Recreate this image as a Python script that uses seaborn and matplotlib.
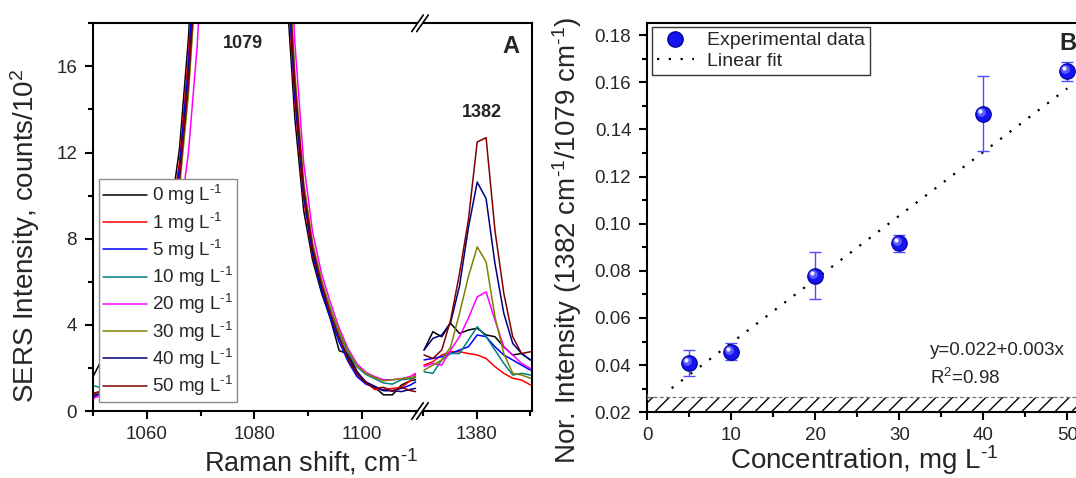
import numpy as np
import pandas as pd
import matplotlib
matplotlib.use("Agg")
import matplotlib.pyplot as plt
import seaborn as sns
from matplotlib.ticker import MultipleLocator, FormatStrFormatter
from matplotlib.lines import Line2D
from matplotlib.patches import Polygon
from matplotlib.transforms import offset_copy

# ---------------- data: panel A (SERS spectra) ----------------
conc_labels = ["0 mg L$^{\\text{-}1}$", "1 mg L$^{\\text{-}1}$", "5 mg L$^{\\text{-}1}$",
               "10 mg L$^{\\text{-}1}$", "20 mg L$^{\\text{-}1}$", "30 mg L$^{\\text{-}1}$",
               "40 mg L$^{\\text{-}1}$", "50 mg L$^{\\text{-}1}$"]
line_colors = ["#000000", "#ff0000", "#0000ff", "#008080",
               "#ff00ff", "#808000", "#000080", "#800000"]

shift_left = [1049.6, 1051.25, 1052.9, 1054.55, 1056.2, 1057.85, 1059.5, 1061.15,
              1062.8, 1064.45, 1066.1, 1067.75, 1069.4, 1071.05, 1072.7, 1074.35,
              1076.0, 1077.65, 1079.3, 1080.95, 1082.6, 1084.25, 1085.9, 1087.55,
              1089.2, 1090.85, 1092.5, 1094.15, 1095.8, 1097.45, 1099.1, 1100.75,
              1102.4, 1104.05, 1105.7, 1107.35, 1109.0, 1110.0]
shift_right = [1370.2, 1371.85, 1373.5, 1375.15, 1376.8, 1378.45, 1380.1,
               1381.75, 1383.4, 1385.05, 1386.7, 1388.35, 1390.0]

sers_0_left = [1.4, 2.2, 2.0, 2.0, 2.4, 3.2, 4.1, 5.4, 7.0, 9.2, 12.2, 17.3, 25, 36, 50, 66,
               79, 83, 76, 60, 44, 30, 20, 13.6, 9.3, 7.0, 5.5, 4.3, 2.8, 2.65, 1.85, 1.3,
               1.1, 0.75, 0.75, 1.2, 1.4, 1.45]
sers_1_left = [0.8, 0.9, 1.1, 1.4, 1.9, 2.7, 3.7, 4.9, 6.5, 8.7, 11.6, 16.5, 23.5, 34, 48, 64,
               78, 83, 78, 63, 46, 32, 21, 14.3, 9.8, 7.2, 5.7, 4.45, 3.4, 2.5, 1.8, 1.35,
               1.0, 1.0, 1.05, 1.1, 1.4, 1.7]
sers_5_left = [0.6, 0.8, 1.0, 1.3, 1.8, 2.6, 3.6, 4.8, 6.3, 8.5, 11.3, 16.0, 23, 33, 47, 63,
               77, 82, 78, 63, 47, 32, 21.5, 14.6, 10.0, 7.3, 5.6, 4.3, 3.2, 2.3, 1.6, 1.25,
               1.1, 0.95, 0.95, 1.05, 1.2, 1.35]
sers_10_left = [1.2, 1.1, 1.2, 1.5, 2.0, 2.7, 3.6, 4.7, 6.2, 8.2, 10.6, 15.0, 21, 31, 45, 61,
                75, 82, 79, 65, 49, 34, 22.5, 15.4, 10.4, 7.7, 6.0, 4.7, 3.6, 2.7, 2.05, 1.7,
                1.5, 1.3, 1.25, 1.45, 1.5, 1.55]
sers_20_left = [0.55, 0.7, 0.9, 1.2, 1.6, 2.3, 3.1, 4.1, 5.4, 7.1, 8.8, 12.0, 17.0, 25, 38, 54,
                70, 80, 82, 70, 54, 38, 25, 17.1, 11.5, 8.3, 6.4, 5.05, 3.85, 2.9, 2.2, 1.8,
                1.6, 1.45, 1.45, 1.5, 1.6, 1.75]
sers_30_left = [0.7, 0.8, 1.0, 1.3, 1.8, 2.5, 3.4, 4.6, 6.1, 8.1, 10.4, 14.7, 21, 30, 44, 60,
                75, 82, 79, 66, 50, 35, 23, 15.7, 10.6, 7.8, 6.1, 4.8, 3.7, 2.8, 2.1, 1.75,
                1.55, 1.4, 1.45, 1.5, 1.55, 1.6]
sers_40_left = [0.65, 0.8, 1.0, 1.4, 1.9, 2.7, 3.6, 4.8, 6.3, 8.3, 10.9, 15.4, 22, 32, 46, 62,
                76, 82, 78, 64, 48, 33, 22, 15, 10.2, 7.4, 5.8, 4.5, 3.4, 2.5, 1.8, 1.35,
                1.15, 0.95, 0.95, 0.9, 1.0, 1.05]
sers_50_left = [0.75, 0.9, 1.1, 1.4, 1.9, 2.7, 3.6, 4.8, 6.3, 8.3, 10.8, 15.2, 21.5, 31.5, 46, 62,
                76, 82, 78.5, 64.5, 48.5, 33.5, 22.3, 15.2, 10.3, 7.6, 5.9, 4.5, 3.4, 2.4, 1.7, 1.3,
                1.05, 1.1, 0.9, 1.1, 0.95, 0.9]

sers_0_right = [2.83, 3.68, 3.45, 4.07, 3.60, 3.76, 3.84, 3.53, 3.45, 2.98, 2.60, 2.67, 2.37]
sers_1_right = [2.13, 2.29, 2.60, 2.75, 2.75, 2.67, 2.60, 2.44, 2.06, 1.75, 1.52, 1.44, 1.21]
sers_5_right = [2.37, 2.44, 2.52, 2.67, 2.83, 2.98, 3.53, 3.45, 2.98, 2.60, 2.37, 2.13, 1.90]
sers_10_right = [1.82, 1.75, 2.37, 2.67, 2.67, 3.29, 3.91, 3.45, 2.83, 2.21, 1.67, 1.75, 1.67]
sers_20_right = [2.06, 2.21, 2.13, 2.83, 3.45, 4.30, 5.30, 5.53, 4.22, 2.98, 2.60, 2.21, 1.98]
sers_30_right = [1.90, 2.13, 2.37, 2.98, 4.53, 6.23, 7.62, 6.93, 4.37, 2.67, 1.75, 1.67, 1.52]
sers_40_right = [2.83, 3.37, 3.53, 4.10, 5.80, 8.50, 10.63, 9.86, 6.85, 4.53, 3.14, 2.67, 2.37]
sers_50_right = [2.60, 2.44, 2.83, 4.22, 6.38, 8.86, 12.49, 12.69, 8.39, 5.46, 3.45, 2.67, 2.75]

# ---------------- data: panel B (calibration) ----------------
conc_mgL = [0, 5, 10, 20, 30, 40, 50]
ratio = [0.0265, 0.0408, 0.0457, 0.0779, 0.0916, 0.1467, 0.1646]
ratio_err = [0.0013, 0.0056, 0.0037, 0.0100, 0.0036, 0.0160, 0.0040]
fit_intercept = 0.0224
fit_slope = 0.0027
fit_span = [2.9, 50.0]
lod_level = 0.0265
axis_floor = 0.02

# ---------------- style ----------------
sns.set_theme(style="ticks")
plt.rcParams["font.family"] = ["Liberation Sans", "DejaVu Sans"]
plt.rcParams["mathtext.fontset"] = "custom"
plt.rcParams["mathtext.rm"] = "Liberation Sans"
plt.rcParams["mathtext.it"] = "Liberation Sans:italic"
plt.rcParams["mathtext.bf"] = "Liberation Sans:bold"
plt.rcParams["mathtext.default"] = "regular"
plt.rcParams["axes.linewidth"] = 1.5
plt.rcParams["hatch.linewidth"] = 1.0
plt.rcParams["axes.edgecolor"] = "black"

W, H = 1076, 478
fig = plt.figure(figsize=(W / 100, H / 100), dpi=100)


def fx(px):
    return px / W


def fy(py):
    return 1 - py / H


axL = fig.add_axes([fx(93), fy(411), fx(419.5) - fx(93), fy(23.3) - fy(411)])
axR = fig.add_axes([fx(419.5), fy(411), fx(531.5) - fx(419.5), fy(23.3) - fy(411)], sharey=axL)
axB = fig.add_axes([fx(647.3), fy(412.3), fx(1084.1) - fx(647.3), fy(23.3) - fy(412.3)])

palette = dict(zip(conc_labels, line_colors))
left_series = [sers_0_left, sers_1_left, sers_5_left, sers_10_left,
               sers_20_left, sers_30_left, sers_40_left, sers_50_left]
right_series = [sers_0_right, sers_1_right, sers_5_right, sers_10_right,
                sers_20_right, sers_30_right, sers_40_right, sers_50_right]

df_left = pd.DataFrame({
    "shift": np.tile(shift_left, len(conc_labels)),
    "intensity": np.concatenate(left_series),
    "label": np.repeat(conc_labels, len(shift_left)),
})
df_right = pd.DataFrame({
    "shift": np.tile(shift_right, len(conc_labels)),
    "intensity": np.concatenate(right_series),
    "label": np.repeat(conc_labels, len(shift_right)),
})

for ax, df in ((axL, df_left), (axR, df_right)):
    sns.lineplot(data=df, x="shift", y="intensity", hue="label", hue_order=conc_labels,
                 palette=palette, estimator=None, sort=False, legend=False,
                 linewidth=1.1, ax=ax)

axL.set_xlim(1050, 1110.74)
axR.set_xlim(1369.36, 1390.2)
axL.set_ylim(0, 18)
axL.spines["right"].set_visible(False)
axR.spines["left"].set_visible(False)
for ax in (axL, axR):
    ax.xaxis.set_major_locator(MultipleLocator(20))
    ax.xaxis.set_minor_locator(MultipleLocator(10))
    ax.set_xlabel("")
    ax.set_ylabel("")
axL.yaxis.set_major_locator(MultipleLocator(4))
axL.yaxis.set_minor_locator(MultipleLocator(2))

for ax in (axL, axR, axB):
    ax.tick_params(axis="both", which="major", direction="out", length=6, width=1.5,
                   labelsize=13.5, top=False, right=False, color="black")
    ax.tick_params(axis="both", which="minor", direction="out", length=3.5, width=1.5,
                   top=False, right=False, color="black")
    ax.tick_params(axis="x", which="major", pad=4.5)
    ax.tick_params(axis="y", which="major", pad=5.5)
    for sp in ax.spines.values():
        sp.set_linewidth(1.5)
        sp.set_color("black")
axR.tick_params(axis="y", which="both", left=False, right=False, labelleft=False)

axL.set_ylabel("SERS Intensity, counts/10$^2$", fontsize=20)
axL.yaxis.set_label_coords(-0.156, 0.451)
axL.set_xlabel("Raman shift, cm$^{\\text{-}1}$", fontsize=19.5, va="baseline")
axL.xaxis.set_label_coords(0.6677, -0.1548)

axL.text(1077.9, 17.07, "1079", fontsize=13, fontweight="bold", ha="center", va="center")
axR.text(1380.9, 13.84, "1382", fontsize=13, fontweight="bold", ha="center", va="center")
axR.text(0.743, 0.9226, "A", transform=axR.transAxes, fontsize=17, fontweight="bold",
         ha="left", va="baseline")

legA_handles = [Line2D([], [], color=c, lw=1.1) for c in line_colors]
legA = axL.legend(legA_handles, conc_labels, loc="lower left", bbox_to_anchor=(0.0184, 0.0232),
                  borderaxespad=0, fontsize=13.5, frameon=True, fancybox=False,
                  edgecolor="#8c8c8c", framealpha=1, handlelength=2.35, handletextpad=0.3,
                  labelspacing=0.17, borderpad=0.2)
legA.get_frame().set_linewidth(1.0)


def draw_break(cx, cy):
    dxh, dyh, gap = 5.8, 8.3, 5.0
    x1, x2 = cx - gap / 2, cx + gap / 2
    poly = Polygon([(fx(x1 - dxh), fy(cy + dyh)), (fx(x1 + dxh), fy(cy - dyh)),
                    (fx(x2 + dxh), fy(cy - dyh)), (fx(x2 - dxh), fy(cy + dyh))],
                   closed=True, transform=fig.transFigure, facecolor="white",
                   edgecolor="none", zorder=10)
    fig.add_artist(poly)
    for x in (x1, x2):
        fig.add_artist(Line2D([fx(x - dxh), fx(x + dxh)], [fy(cy + dyh), fy(cy - dyh)],
                              transform=fig.transFigure, color="black", lw=1.2, zorder=11))


draw_break(420, 23.3)
draw_break(420, 411)

# ---------------- panel B ----------------
axB.set_xlim(0, 52)
axB.set_ylim(0.02, 0.185)
axB.xaxis.set_major_locator(MultipleLocator(10))
axB.xaxis.set_minor_locator(MultipleLocator(5))
axB.yaxis.set_major_locator(MultipleLocator(0.02))
axB.yaxis.set_minor_locator(MultipleLocator(0.01))
axB.yaxis.set_major_formatter(FormatStrFormatter("%.2f"))

axB.axhspan(axis_floor, lod_level, facecolor="none", edgecolor="black", hatch="//",
            linewidth=0, zorder=1)
axB.axhline(lod_level, color="#707070", ls=(0, (3, 2)), lw=0.9, zorder=1)

fit_x = np.array(fit_span)
fit_y = fit_intercept + fit_slope * fit_x
sns.lineplot(x=fit_x, y=fit_y, color="black", linestyle=(0, (1, 4.3)), lw=1.6,
             ax=axB, zorder=2)

# blank (0 mg/L): only its error bar shows at the axis edge
axB.errorbar(conc_mgL[:1], ratio[:1], yerr=ratio_err[:1], fmt="none", ecolor="#4d4dff",
             elinewidth=1.2, capsize=0, zorder=3)
axB.errorbar(conc_mgL[1:], ratio[1:], yerr=ratio_err[1:], fmt="none", ecolor="#4d4dff",
             elinewidth=1.0, capsize=4, capthick=1.0, zorder=3)

pts_x = conc_mgL[1:]
pts_y = ratio[1:]
sns.scatterplot(x=pts_x, y=pts_y, s=125, color="#1414f0", edgecolor="#00009a",
                linewidth=0.8, zorder=4, ax=axB, legend=False)
axB.scatter(pts_x, pts_y, s=40, color="#5a5aff", linewidths=0, zorder=5,
            transform=offset_copy(axB.transData, fig=fig, x=-2.0, y=2.0, units="dots"))
axB.scatter(pts_x, pts_y, s=9, color="#f0f0ff", linewidths=0, zorder=6,
            transform=offset_copy(axB.transData, fig=fig, x=-3.0, y=3.0, units="dots"))

axB.set_xlabel("Concentration, mg L$^{\\text{-}1}$", fontsize=20, va="baseline")
axB.xaxis.set_label_coords(0.496, -0.146)
axB.set_ylabel("Nor. Intensity (1382 cm$^{\\text{-}1}$/1079 cm$^{\\text{-}1}$)", fontsize=20)
axB.yaxis.set_label_coords(-0.145, 0.443)

axB.text(33.6, 0.0464, "y=0.022+0.003x", fontsize=13.5, ha="left", va="center")
axB.text(33.6, 0.0346, "R$^2$=0.98", fontsize=13.5, ha="left", va="center")
axB.text(0.9426, 0.9314, "B", transform=axB.transAxes, fontsize=17, fontweight="bold",
         ha="left", va="baseline")

legB_handles = [Line2D([], [], ls="none", marker="o", markersize=11,
                       markerfacecolor="#1414f0", markeredgecolor="#00009a"),
                Line2D([], [], color="black", ls=(0, (1, 4.3)), lw=1.6)]
legB = axB.legend(legB_handles, ["Experimental data", "Linear fit"], loc="upper left",
                  bbox_to_anchor=(0.0108, 0.9905), borderaxespad=0, fontsize=14,
                  frameon=True, fancybox=False, edgecolor="#333333", framealpha=1,
                  handlelength=1.9, handletextpad=0.67, labelspacing=0.15, borderpad=0.25)
legB.get_frame().set_linewidth(1.0)

fig.savefig("out.png", dpi=100)
